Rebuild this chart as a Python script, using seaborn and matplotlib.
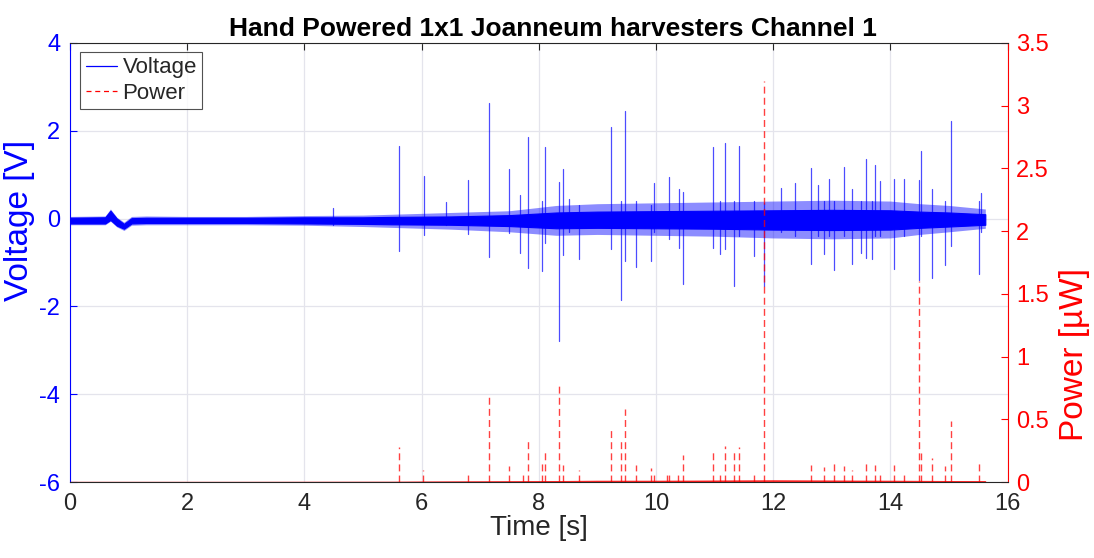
import matplotlib
matplotlib.use("Agg")
import matplotlib.pyplot as plt
from matplotlib.lines import Line2D
import numpy as np
import pandas as pd
import seaborn as sns

# ---------------- data ----------------
# Voltage noise band: outer (light fringe) envelope
env_t = [0, 0.6, 0.69, 0.8, 0.92, 1.05, 1.3, 2, 3, 4, 5, 5.5, 6.5, 7.5, 8.3,
         9, 10, 11, 12, 13, 14, 14.5, 15, 15.62]
env_hi = [0.05, 0.06, 0.22, 0.03, -0.08, 0.05, 0.06, 0.05, 0.05, 0.07, 0.08, 0.10,
          0.14, 0.18, 0.30, 0.34, 0.36, 0.38, 0.40, 0.42, 0.40, 0.34, 0.30, 0.22]
env_lo = [-0.14, -0.14, -0.06, -0.19, -0.27, -0.15, -0.14, -0.14, -0.14, -0.15,
          -0.18, -0.20, -0.24, -0.30, -0.38, -0.36, -0.38, -0.40, -0.44, -0.46,
          -0.44, -0.36, -0.30, -0.22]
# dense core of the trace
core_hi = [0.02, 0.03, 0.18, 0.00, -0.12, 0.01, 0.02, 0.02, 0.02, 0.03, 0.03, 0.04,
           0.05, 0.08, 0.14, 0.16, 0.17, 0.18, 0.19, 0.20, 0.19, 0.16, 0.14, 0.10]
core_lo = [-0.11, -0.11, -0.03, -0.16, -0.23, -0.11, -0.10, -0.10, -0.10, -0.11,
           -0.12, -0.13, -0.14, -0.17, -0.22, -0.21, -0.22, -0.23, -0.25, -0.26,
           -0.25, -0.21, -0.18, -0.14]

# Voltage spikes: time, positive peak, negative peak
spike_t = [4.48, 5.62, 6.04, 6.42, 6.79, 7.15, 7.49, 7.68, 7.82, 8.06, 8.11, 8.35,
           8.41, 8.52, 8.68, 9.23, 9.40, 9.47, 9.66, 9.92, 9.97, 10.22, 10.39,
           10.46, 10.97, 11.10, 11.18, 11.33, 11.42, 11.68, 11.85, 12.14, 12.37,
           12.64, 12.76, 12.87, 12.96, 13.03, 13.20, 13.35, 13.50, 13.58, 13.69,
           13.73, 13.82, 14.06, 14.24, 14.48, 14.53, 14.71, 14.94, 15.04, 15.51,
           15.54]
spike_hi = [0.25, 1.66, 0.96, 0.37, 0.87, 2.63, 1.12, 0.54, 1.87, 0.39, 1.63, 0.83,
            1.13, 0.45, 0.30, 2.08, 0.40, 2.44, 0.40, 0.30, 0.80, 0.95, 0.68,
            0.61, 1.63, 0.40, 1.72, 0.40, 1.66, 0.40, 0.36, 0.70, 0.80,
            1.15, 0.77, 0.40, 0.90, 0.40, 1.18, 0.68, 0.40, 1.36, 0.40,
            1.22, 0.85, 0.90, 0.90, 0.89, 1.53, 0.68, 0.40, 2.22, 0.40,
            0.59]
spike_lo = [-0.15, -0.74, -0.38, -0.15, -0.34, -0.88, -0.32, -0.78, -1.12, -1.20,
            -0.55, -2.79, -0.82, -0.30, -0.93, -0.69, -1.85, -0.97, -1.11, -0.97,
            -0.30, -0.46, -0.67, -1.48, -0.67, -0.80, -0.69, -1.54, -0.40, -0.86,
            -1.54, -0.30, -0.40, -1.03, -0.40, -0.80, -0.40, -1.18, -0.40, -1.03,
            -0.78, -0.90, -0.93, -0.40, -0.40, -1.14, -0.40, -1.40, -0.40, -1.35,
            -1.06, -0.63, -1.26, -0.30]

# Power spikes [µW]
power_t = [5.62, 6.03, 6.79, 7.15, 7.49, 7.73, 7.82, 8.06, 8.11, 8.35, 8.41, 8.68,
           9.23, 9.40, 9.47, 9.66, 9.92, 9.97, 10.18, 10.22, 10.37, 10.46, 10.97,
           11.10, 11.18, 11.33, 11.42, 11.68, 11.85, 12.64, 12.87, 13.03, 13.20,
           13.35, 13.58, 13.73, 13.82, 14.06, 14.24, 14.48, 14.53, 14.71, 14.94,
           15.04, 15.51]
power_v = [0.28, 0.10, 0.08, 0.69, 0.13, 0.07, 0.34, 0.16, 0.26, 0.80, 0.14, 0.10,
           0.43, 0.35, 0.58, 0.14, 0.11, 0.09, 0.08, 0.09, 0.08, 0.22, 0.26,
           0.07, 0.29, 0.24, 0.28, 0.08, 3.20, 0.14, 0.12, 0.15, 0.13,
           0.10, 0.18, 0.14, 0.08, 0.14, 0.09, 1.60, 0.23, 0.19, 0.13,
           0.49, 0.18]

# Power low-level fuzz envelope
penv_t = [0, 5.5, 6, 8, 9, 10, 12, 14, 15.62]
penv_hi = [0.0, 0.003, 0.005, 0.008, 0.012, 0.012, 0.015, 0.012, 0.008]

x_ticks = [0, 2, 4, 6, 8, 10, 12, 14, 16]
v_ticks = [-6, -4, -2, 0, 2, 4]
p_ticks = [0, 0.5, 1, 1.5, 2, 2.5, 3, 3.5]
p_labels = ["0", "0.5", "1", "1.5", "2", "2.5", "3", "3.5"]

# ---------------- styling ----------------
sns.set_style("white")
plt.rcParams["font.family"] = ["Liberation Sans", "DejaVu Sans"]
plt.rcParams["axes.unicode_minus"] = False

BLUE = (0, 0, 1)
RED = (1, 0, 0)
DARK = "#262626"

fig = plt.figure(figsize=(10.94, 5.58), dpi=100)
ax = fig.add_axes([0.064, 0.136, 0.857, 0.787])
ax2 = ax.twinx()

# voltage band (fringe + dense core)
ax.fill_between(env_t, env_lo, env_hi, color=BLUE, lw=0, alpha=0.45, zorder=3)
ax.fill_between(env_t, core_lo, core_hi, color=BLUE, lw=0.8, zorder=3)

# voltage spikes via seaborn (each spike one unit)
n = len(spike_t)
vdf = pd.DataFrame({
    "t": np.repeat(spike_t, 2),
    "v": np.ravel(np.column_stack([spike_lo, spike_hi])),
    "id": np.repeat(np.arange(n), 2),
})
sns.lineplot(data=vdf, x="t", y="v", units="id", estimator=None, sort=False,
             color=BLUE, lw=0.9, alpha=0.7, ax=ax, zorder=4)

# power
m = len(power_t)
pdf = pd.DataFrame({
    "t": np.repeat(power_t, 2),
    "p": np.ravel(np.column_stack([np.zeros(m), power_v])),
    "id": np.repeat(np.arange(m), 2),
})
ax2.fill_between(penv_t, 0, penv_hi, color=RED, lw=0.6, alpha=0.8)
sns.lineplot(data=pdf, x="t", y="p", units="id", estimator=None, sort=False,
             color=RED, lw=1.0, alpha=0.75, ax=ax2, linestyle=(0, (5, 3)))
sns.lineplot(x=[0, 15.62], y=[0, 0], color=RED, lw=1.0, alpha=0.8, ax=ax2)

# axes limits / ticks
ax.set_xlim(0, 16)
ax.set_ylim(-6, 4)
ax2.set_ylim(0, 3.5)
ax.set_xticks(x_ticks)
ax.set_xticklabels([str(v) for v in x_ticks])
ax.set_yticks(v_ticks)
ax.set_yticklabels([str(v) for v in v_ticks])
ax2.set_yticks(p_ticks)
ax2.set_yticklabels(p_labels)

ax.grid(True, color="#e4e4ec", lw=0.9)
ax.set_axisbelow(True)

ax.tick_params(axis="x", direction="in", length=5, colors=DARK, labelsize=17,
               top=True, pad=8, width=0.8)
ax.tick_params(axis="y", direction="in", length=5, colors=BLUE, labelsize=17,
               width=0.8, pad=7)
ax2.tick_params(axis="y", direction="in", length=5, colors=RED, labelsize=17,
                width=0.8, pad=6)

for s in ["top", "bottom"]:
    ax2.spines[s].set_color(DARK)
    ax2.spines[s].set_linewidth(0.8)
ax2.spines["left"].set_color(BLUE)
ax2.spines["right"].set_color(RED)
ax2.spines["left"].set_linewidth(0.8)
ax2.spines["right"].set_linewidth(0.8)
for s in ax.spines.values():
    s.set_visible(False)

ax.set_xlabel("Time [s]", fontsize=20, color=DARK, labelpad=0)
ax.set_ylabel("Voltage [V]", fontsize=24, color=BLUE)
ax2.set_ylabel("Power [µW]", fontsize=24, color=RED)
ax.yaxis.set_label_coords(-0.037, 0.597)
ax2.yaxis.set_label_coords(1.055, 0.29)
ax.set_title("Hand Powered 1x1 Joanneum harvesters Channel 1", fontsize=19,
             fontweight="bold", color="black", pad=5, x=0.515)

handles = [Line2D([0], [0], color=BLUE, lw=0.9),
           Line2D([0], [0], color=RED, lw=0.9, ls=(0, (4, 3)))]
leg = ax2.legend(handles, ["Voltage", "Power"], loc="upper left",
                 bbox_to_anchor=(0.011, 0.98), borderaxespad=0, fontsize=16,
                 frameon=True, fancybox=False, handlelength=1.4,
                 handletextpad=0.25, borderpad=0.25, labelspacing=0.2)
leg.get_frame().set_edgecolor(DARK)
leg.get_frame().set_linewidth(0.8)

fig.savefig("out.png", dpi=100)
